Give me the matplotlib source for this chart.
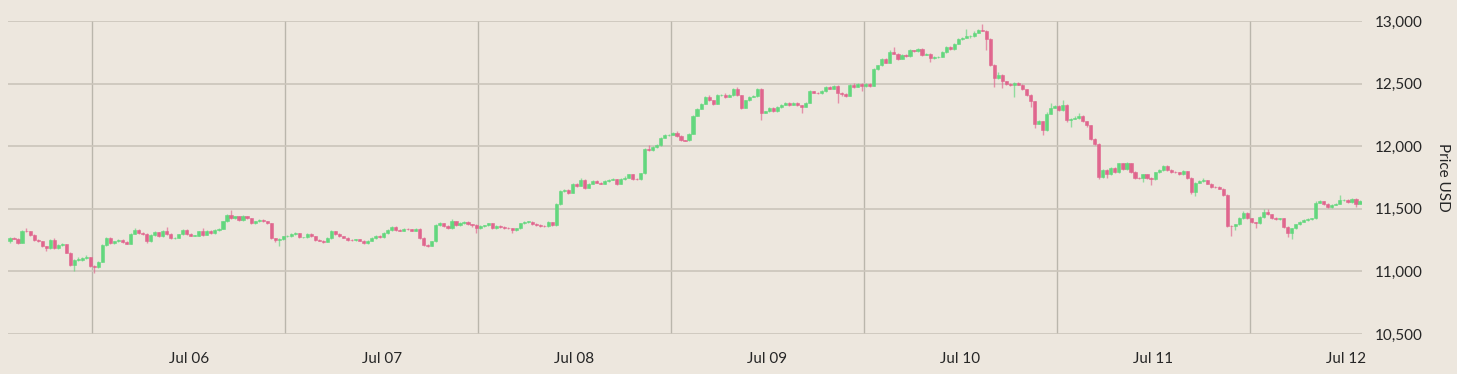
import numpy as np
import pandas as pd
import matplotlib
matplotlib.use("Agg")
import matplotlib.pyplot as plt
import matplotlib.dates as mdates

# 30-minute candles, 5 Jul 2019 01:45 onwards
first_open = 11240
closes = [
    11265, 11262, 11228, 11324, 11320, 11292, 11252, 11240, 11199, 11186, 11252, 11186,
    11212, 11215, 11148, 11050, 11093, 11095, 11106, 11115, 11045, 11035, 11079, 11210,
    11270, 11226, 11240, 11252, 11235, 11222, 11302, 11332, 11305, 11300, 11239, 11292,
    11312, 11279, 11319, 11300, 11266, 11268, 11295, 11332, 11300, 11285, 11285, 11319,
    11292, 11325, 11306, 11332, 11340, 11399, 11452, 11425, 11439, 11412, 11439, 11425,
    11386, 11399, 11412, 11400, 11386, 11266, 11252, 11260, 11280, 11282, 11300, 11306,
    11272, 11272, 11300, 11279, 11252, 11245, 11235, 11266, 11319, 11300, 11279, 11270,
    11252, 11250, 11255, 11245, 11226, 11245, 11266, 11285, 11272, 11306, 11332, 11355,
    11330, 11325, 11340, 11335, 11325, 11340, 11266, 11212, 11205, 11239, 11372, 11386,
    11362, 11346, 11399, 11370, 11383, 11396, 11375, 11372, 11343, 11364, 11370, 11383,
    11343, 11364, 11356, 11348, 11343, 11330, 11343, 11383, 11396, 11398, 11380, 11370,
    11364, 11362, 11391, 11370, 11537, 11641, 11649, 11628, 11702, 11683, 11729, 11667,
    11702, 11723, 11710, 11702, 11723, 11734, 11737, 11702, 11737, 11750, 11774, 11742,
    11740, 11782, 11981, 11968, 11995, 12008, 12069, 12088, 12093, 12109, 12082, 12048,
    12046, 12101, 12242, 12300, 12340, 12394, 12367, 12340, 12407, 12412, 12394, 12407,
    12455, 12407, 12306, 12367, 12394, 12402, 12460, 12269, 12279, 12306, 12279, 12314,
    12332, 12348, 12332, 12348, 12327, 12314, 12348, 12439, 12428, 12423, 12439, 12473,
    12460, 12481, 12428, 12420, 12402, 12487, 12473, 12500, 12481, 12500, 12481, 12614,
    12646, 12699, 12668, 12753, 12739, 12699, 12731, 12720, 12766, 12758, 12779, 12731,
    12739, 12705, 12713, 12715, 12753, 12793, 12774, 12819, 12854, 12867, 12880, 12881,
    12907, 12926, 12923, 12859, 12652, 12545, 12572, 12519, 12500, 12492, 12505, 12492,
    12455, 12407, 12359, 12181, 12199, 12128, 12261, 12306, 12322, 12287, 12332, 12207,
    12221, 12226, 12242, 12199, 12167, 12056, 12021, 11755, 11808, 11774, 11822, 11790,
    11862, 11816, 11862, 11795, 11747, 11745, 11774, 11747, 11736, 11790, 11808, 11843,
    11808, 11795, 11790, 11774, 11800, 11747, 11635, 11710, 11720, 11729, 11702, 11675,
    11673, 11662, 11614, 11364, 11361, 11375, 11428, 11470, 11423, 11391, 11383, 11436,
    11476, 11455, 11428, 11417, 11423, 11356, 11303, 11343, 11375, 11396, 11409, 11417,
    11423, 11550, 11561, 11542, 11516, 11534, 11542, 11569, 11570, 11556, 11577, 11542,
    11561,
]
# wick length above / below the body, USD
upper_wick = [
    8, 6, 8, 6, 22, 6, 4, 6, 4, 4, 6, 18,
    4, 8, 4, 4, 6, 20, 10, 14, 4, 6, 4, 6,
    8, 4, 6, 8, 6, 4, 6, 14, 4, 6, 4, 6,
    8, 4, 8, 38, 4, 6, 6, 8, 4, 6, 6, 6,
    30, 8, 4, 6, 8, 6, 6, 40, 6, 4, 8, 6,
    4, 6, 6, 4, 6, 4, 4, 6, 6, 8, 6, 8,
    4, 6, 6, 4, 6, 4, 6, 6, 10, 4, 6, 4,
    6, 6, 6, 4, 6, 6, 6, 8, 4, 6, 10, 10,
    4, 6, 8, 6, 4, 8, 4, 6, 4, 6, 6, 8,
    4, 6, 20, 6, 8, 10, 6, 6, 4, 6, 4, 6,
    4, 6, 6, 4, 4, 4, 6, 6, 8, 6, 6, 4,
    6, 4, 8, 4, 6, 8, 6, 6, 8, 6, 18, 6,
    6, 8, 4, 6, 6, 8, 6, 4, 6, 8, 6, 6,
    4, 6, 4, 30, 6, 8, 6, 8, 6, 8, 14, 6,
    4, 6, 6, 8, 6, 10, 15, 4, 8, 6, 10, 6,
    8, 18, 4, 6, 8, 6, 8, 4, 6, 8, 4, 6,
    6, 8, 4, 6, 4, 6, 8, 6, 4, 6, 8, 6,
    6, 6, 4, 4, 6, 8, 20, 6, 4, 6, 4, 8,
    6, 8, 6, 15, 40, 4, 6, 4, 8, 6, 8, 4,
    6, 4, 6, 4, 6, 8, 6, 8, 10, 6, 59, 10,
    10, 8, 47, 4, 4, 4, 20, 6, 4, 6, 6, 6,
    4, 4, 6, 4, 10, 4, 10, 40, 10, 6, 35, 6,
    8, 15, 20, 4, 6, 4, 6, 4, 8, 6, 10, 15,
    6, 6, 15, 4, 4, 6, 6, 6, 4, 6, 10, 10,
    4, 6, 6, 4, 8, 4, 4, 8, 8, 20, 4, 6,
    4, 6, 4, 4, 6, 6, 8, 15, 4, 6, 4, 6,
    25, 20, 4, 6, 6, 4, 6, 6, 6, 8, 6, 6,
    6, 15, 8, 4, 6, 6, 8, 45, 8, 10, 8, 12,
    6,
]
lower_wick = [
    10, 6, 6, 4, 4, 6, 6, 6, 8, 20, 4, 6,
    6, 6, 4, 8, 45, 12, 14, 8, 8, 49, 6, 6,
    4, 6, 4, 4, 6, 6, 4, 6, 8, 6, 10, 4,
    6, 6, 4, 6, 8, 6, 4, 6, 6, 6, 6, 4,
    6, 4, 6, 4, 6, 4, 4, 6, 6, 6, 6, 6,
    6, 4, 4, 6, 6, 8, 20, 53, 8, 6, 4, 6,
    6, 6, 4, 6, 8, 6, 12, 4, 4, 8, 6, 6,
    8, 6, 4, 6, 8, 4, 6, 4, 6, 4, 4, 6,
    6, 6, 4, 6, 6, 6, 6, 10, 12, 4, 4, 6,
    6, 8, 6, 6, 6, 6, 8, 15, 40, 4, 6, 4,
    8, 4, 6, 6, 8, 20, 4, 4, 6, 6, 6, 6,
    6, 8, 4, 6, 6, 4, 6, 8, 4, 6, 4, 8,
    4, 6, 6, 6, 4, 6, 4, 8, 4, 6, 4, 8,
    6, 6, 6, 6, 4, 6, 4, 6, 4, 6, 6, 8,
    6, 4, 6, 4, 6, 4, 6, 8, 4, 6, 6, 4,
    4, 6, 10, 4, 6, 4, 6, 62, 6, 4, 8, 4,
    6, 4, 8, 4, 6, 45, 4, 6, 6, 6, 4, 6,
    6, 4, 80, 20, 6, 4, 6, 4, 40, 6, 6, 4,
    6, 4, 6, 4, 6, 8, 6, 6, 4, 6, 4, 8,
    6, 32, 6, 6, 4, 6, 8, 4, 6, 6, 4, 15,
    6, 6, 6, 93, 10, 72, 6, 55, 8, 15, 100, 6,
    10, 10, 45, 35, 6, 35, 6, 6, 4, 6, 6, 10,
    53, 6, 6, 6, 12, 10, 10, 20, 6, 25, 6, 6,
    6, 8, 6, 10, 8, 6, 30, 6, 45, 6, 4, 6,
    6, 6, 6, 6, 6, 6, 15, 35, 6, 6, 6, 6,
    8, 6, 15, 10, 77, 30, 6, 6, 8, 8, 40, 6,
    6, 6, 8, 6, 6, 10, 25, 45, 6, 6, 4, 6,
    6, 6, 6, 8, 6, 6, 6, 6, 6, 8, 6, 25,
    6,
]
day_labels = ["Jul 06", "Jul 07", "Jul 08", "Jul 09", "Jul 10", "Jul 11", "Jul 12"]
price_ticks = [10500, 11000, 11500, 12000, 12500, 13000]

BG = "#ede7de"
GREEN = "#5fd77b"
RED = "#e0628c"
TXT = "#262626"

plt.rcParams["font.family"] = ["Lato", "DejaVu Sans"]

closes = np.array(closes, dtype=float)
opens = np.concatenate([[first_open], closes[:-1]])
highs = np.maximum(opens, closes) + np.array(upper_wick)
lows = np.minimum(opens, closes) - np.array(lower_wick)
rising = closes >= opens

times = pd.date_range("2019-07-05 01:45", periods=len(closes), freq="30min")
x = mdates.date2num(times)
step = 30 / 1440

fig = plt.figure(figsize=(14.57, 3.74), dpi=100, facecolor=BG)
ax = fig.add_axes([8 / 1457, 1 - 334 / 374, 1354 / 1457, 313 / 374])
ax.set_facecolor(BG)

# grid: horizontal at price ticks, vertical at noon
ax.set_yticks(price_ticks)
ax.yaxis.grid(True, color="#cbc5bb", lw=1.2, zorder=0)
for d in pd.date_range("2019-07-05 12:00", periods=7, freq="D"):
    ax.axvline(mdates.date2num(d), color="#bab6ac", lw=1.0, zorder=0)

cols = np.where(rising, GREEN, RED)
ax.vlines(x, lows, highs, colors=cols, lw=1.0, alpha=0.65, zorder=2)
body = closes - opens
body = np.where(np.abs(body) < 3, np.where(rising, 3, -3), body)
ax.bar(x, body, bottom=opens, width=step * 0.78, color=cols,
       edgecolor=cols, linewidth=0.4, alpha=0.95, zorder=3)

ax.set_xlim(x[0] - step / 2, x[-1] + step / 2)
ax.set_ylim(10500, 13000)

ax.set_xticks(mdates.date2num(pd.date_range("2019-07-06", periods=7, freq="D")))
ax.set_xticklabels(day_labels)
ax.yaxis.tick_right()
ax.set_yticklabels([f"{v:,}" for v in price_ticks])
ax.tick_params(axis="x", length=0, pad=13, labelsize=11, labelcolor=TXT)
ax.tick_params(axis="y", length=0, pad=9, labelsize=11, labelcolor=TXT)
for lab in ax.get_yticklabels():
    lab.set_horizontalalignment("left")
for s in ax.spines.values():
    s.set_visible(False)

fig.text(1443 / 1457, 1 - 177.5 / 374, "Price USD", rotation=270,
         ha="center", va="center", fontsize=11, color=TXT)

fig.savefig("out.png", dpi=100, facecolor=BG)
